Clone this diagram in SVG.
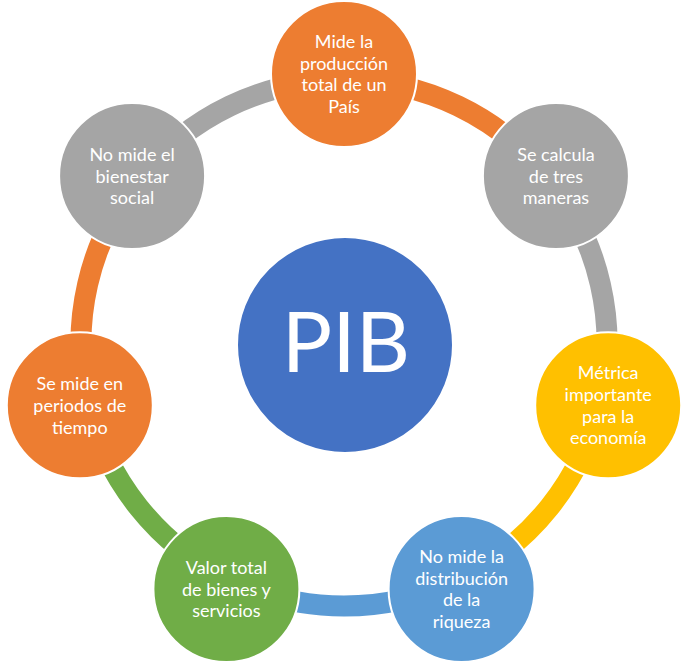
<svg xmlns="http://www.w3.org/2000/svg" width="696" height="664" viewBox="0 0 696 664">
<style>
.arc{fill:none;stroke-width:21}
.node{stroke:#ffffff;stroke-width:2}
.t{font-family:Lato,"Open Sans","Liberation Sans",sans-serif;font-size:18px;fill:#ffffff;text-anchor:middle}
.big{font-family:Lato,"Open Sans","Liberation Sans",sans-serif;font-size:84px;fill:#ffffff;text-anchor:middle}
.orange{fill:#ED7D31}.gray{fill:#A5A5A5}.yellow{fill:#FFC000}.lblue{fill:#5B9BD5}.green{fill:#70AD47}.blue{fill:#4472C4}
</style>
<rect width="696" height="664" fill="#ffffff"/>
<g id="connectors">
<path class="arc" stroke="#ED7D31" d="M344 80 A263 263 0 0 1 549.62 179.02"/>
<path class="arc" stroke="#A5A5A5" d="M549.62 179.02 A263 263 0 0 1 600.41 401.52"/>
<path class="arc" stroke="#FFC000" d="M600.41 401.52 A263 263 0 0 1 458.11 579.96"/>
<path class="arc" stroke="#5B9BD5" d="M458.11 579.96 A263 263 0 0 1 229.89 579.96"/>
<path class="arc" stroke="#70AD47" d="M229.89 579.96 A263 263 0 0 1 87.59 401.52"/>
<path class="arc" stroke="#ED7D31" d="M87.59 401.52 A263 263 0 0 1 138.38 179.02"/>
<path class="arc" stroke="#A5A5A5" d="M138.38 179.02 A263 263 0 0 1 344 80"/>
</g>
<g id="center">
<circle class="node blue" cx="345" cy="345" r="108"/>
<text class="big" x="346" y="372">PIB</text>
</g>
<g id="n1">
<circle class="node orange" cx="344" cy="74" r="73"/>
<text class="t" x="344"><tspan x="344" y="48">Mide la</tspan><tspan x="344" y="69.7">producción</tspan><tspan x="344" y="91.4">total de un</tspan><tspan x="344" y="113.1">País</tspan></text>
</g>
<g id="n2">
<circle class="node gray" cx="555.9" cy="176" r="73"/>
<text class="t"><tspan x="555.9" y="160.8">Se calcula</tspan><tspan x="555.9" y="182.5">de tres</tspan><tspan x="555.9" y="204.2">maneras</tspan></text>
</g>
<g id="n3">
<circle class="node yellow" cx="608.2" cy="405.3" r="73"/>
<text class="t"><tspan x="608.2" y="379.2">Métrica</tspan><tspan x="608.2" y="400.9">importante</tspan><tspan x="608.2" y="422.6">para la</tspan><tspan x="608.2" y="444.3">economía</tspan></text>
</g>
<g id="n4">
<circle class="node lblue" cx="461.6" cy="589" r="73"/>
<text class="t"><tspan x="461.6" y="563">No mide la</tspan><tspan x="461.6" y="584.7">distribución</tspan><tspan x="461.6" y="606.4">de la</tspan><tspan x="461.6" y="628.1">riqueza</tspan></text>
</g>
<g id="n5">
<circle class="node green" cx="226.4" cy="589" r="73"/>
<text class="t"><tspan x="226.4" y="573.8">Valor total</tspan><tspan x="226.4" y="595.5">de bienes y</tspan><tspan x="226.4" y="617.2">servicios</tspan></text>
</g>
<g id="n6">
<circle class="node orange" cx="79.8" cy="405.3" r="73"/>
<text class="t"><tspan x="79.8" y="390.1">Se mide en</tspan><tspan x="79.8" y="411.8">periodos de</tspan><tspan x="79.8" y="433.5">tiempo</tspan></text>
</g>
<g id="n7">
<circle class="node gray" cx="132.1" cy="176" r="73"/>
<text class="t"><tspan x="132.1" y="160.8">No mide el</tspan><tspan x="132.1" y="182.5">bienestar</tspan><tspan x="132.1" y="204.2">social</tspan></text>
</g>
</svg>
